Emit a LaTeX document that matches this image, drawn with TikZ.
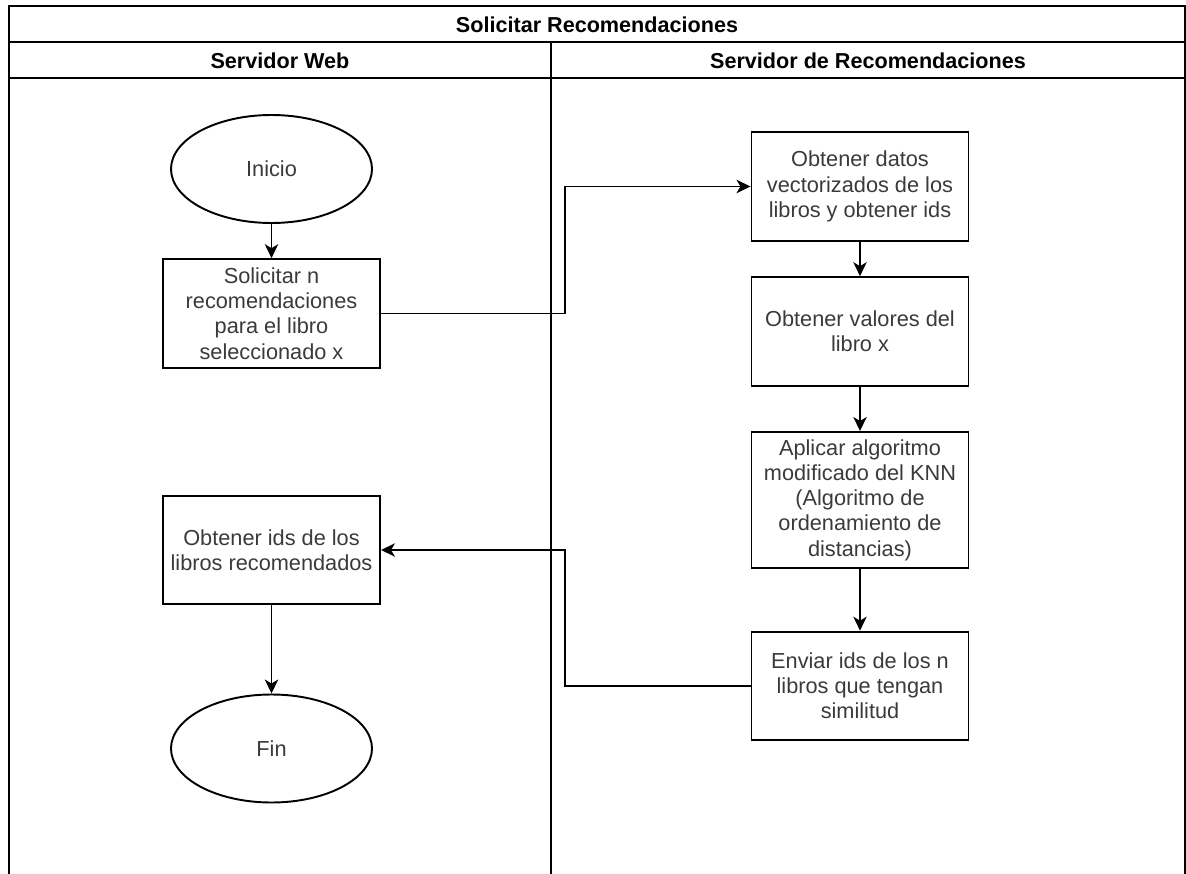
\documentclass[tikz,border=0pt]{standalone}
\usepackage{fontspec}
\setmainfont{Liberation Sans}
\usetikzlibrary{shapes.geometric,arrows.meta}

\definecolor{inktext}{HTML}{3A3A3A}

\begin{document}
\begin{tikzpicture}[x=0.75pt,y=-0.75pt,
  every node/.style={font=\fontsize{16.3}{18.9}\selectfont},
  lanehead/.style={font=\fontsize{16.2}{18.9}\selectfont\bfseries, text=black, inner sep=0pt},
  procbox/.style={draw, line width=1.45pt, rectangle, align=center, text=inktext,
    minimum width=162.75pt, minimum height=81.5pt, inner sep=2pt},
  terminal/.style={draw, line width=1.45pt, ellipse, align=center, text=inktext,
    minimum width=150.75pt, minimum height=81pt, inner sep=0pt},
  frame/.style={line width=1.45pt},
  flow/.style={line width=1.45pt, -{Stealth[length=10.5pt,width=10pt,inset=3pt]}}
]
  % page extent
  \useasboundingbox (0,0) rectangle (1186,874);

  % pool frame with title row, lane header row and lane divider
  \draw[frame] (9,874) -- (9,6) -- (1185,6) -- (1185,874);
  \draw[frame] (9,42) -- (1185,42);
  \draw[frame] (9,78) -- (1185,78);
  \draw[frame] (551,42) -- (551,874);

  \node[lanehead] (pool) at (597,24.5) {Solicitar Recomendaciones};
  \node[lanehead] (laneweb) at (280,60.5) {Servidor Web};
  \node[lanehead] (lanerec) at (868,60.5) {Servidor de Recomendaciones};

  % web server lane
  \node[terminal] (inicio) at (271.5,169) {Inicio};
  \node[procbox] (sol) at (271.5,313.5) {Solicitar n\\recomendaciones\\para el libro\\seleccionado x};
  \node[procbox] (ids) at (271.5,550) {Obtener ids de los\\libros recomendados};
  \node[terminal] (fin) at (271.5,748.5) {Fin};

  % recommendation server lane
  \node[procbox] (datos) at (860,186.5) {Obtener datos\\vectorizados de los\\libros y obtener ids};
  \node[procbox] (valores) at (860,331.5) {Obtener valores del\\libro x};
  \node[procbox, minimum height=102pt] (knn) at (860,500) {Aplicar algoritmo\\modificado del KNN\\(Algoritmo de\\ordenamiento de\\distancias)};
  \node[procbox] (enviar) at (860,686) {Enviar ids de los n\\libros que tengan\\similitud};

  % x position of the vertical runs crossing between lanes
  \coordinate (busx) at (565,0);

  % connectors
  \draw[flow] (inicio) -- (sol);
  \draw[flow] (sol.east) -- (sol.east -| busx) |- (datos.west);
  \draw[flow] (datos) -- (valores);
  \draw[flow] (valores) -- (knn);
  \draw[flow] (knn) -- (enviar);
  \draw[flow] (enviar.west) -- (enviar.west -| busx) |- (ids.east);
  \draw[flow] (ids) -- (fin);
\end{tikzpicture}
\end{document}
